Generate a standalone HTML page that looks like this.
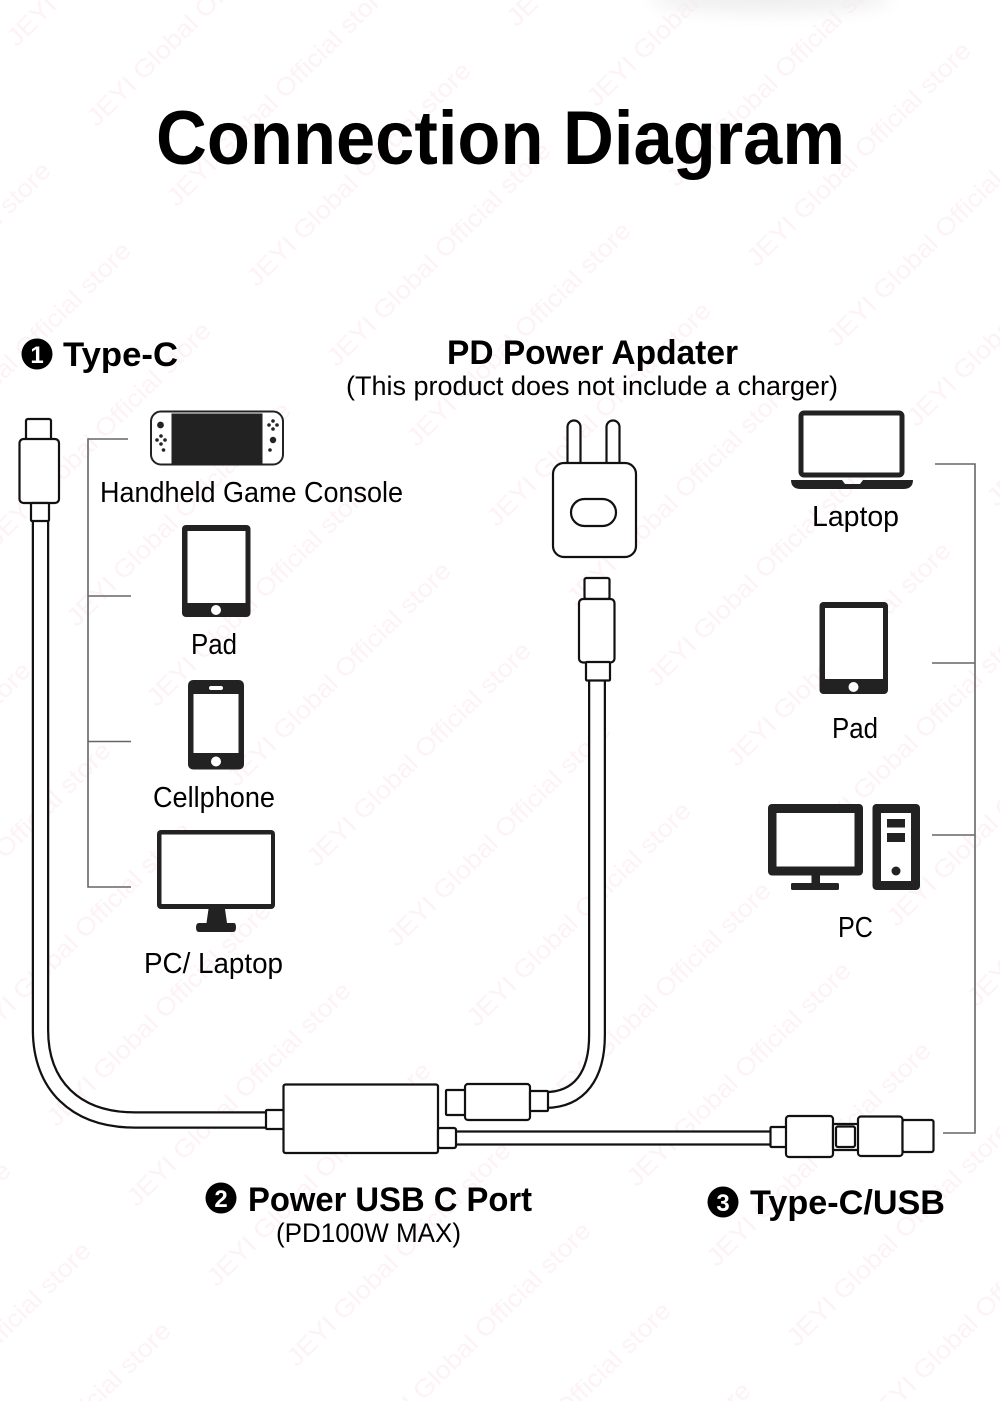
<!DOCTYPE html>
<html>
<head>
<meta charset="utf-8">
<style>
html,body{margin:0;padding:0;background:#fff;width:1000px;height:1401px;overflow:hidden}
svg{display:block}
text{font-family:"Liberation Sans",sans-serif;fill:#000}
.b{font-weight:bold}
.l{stroke:#111;stroke-width:2.2;fill:#fff;stroke-linejoin:round}
.k{stroke:#666;stroke-width:1.6;fill:none}
.c{fill:none;stroke-linecap:butt}
.i{fill:#222}
.w{fill:#fff}
</style>
</head>
<body>
<svg width="1000" height="1401" viewBox="0 0 1000 1401" xmlns="http://www.w3.org/2000/svg">
<defs>
<pattern id="wm" width="367.7" height="113.14" patternUnits="userSpaceOnUse" patternTransform="translate(257,288) rotate(-45) translate(0,-60)">
<text x="0" y="60" font-size="25" textLength="305" lengthAdjust="spacingAndGlyphs" style="fill:#fdf2f5">JEYI Global Official store</text>
</pattern>
<filter id="blur" x="-30%" y="-100%" width="160%" height="300%"><feGaussianBlur stdDeviation="9"/></filter>
</defs>
<rect width="1000" height="1401" fill="#fff"/>
<rect width="1000" height="1401" fill="url(#wm)"/>
<ellipse cx="770" cy="-2" rx="120" ry="14" fill="#eeeeee" filter="url(#blur)"/>

<!-- Title -->
<text class="b" x="156" y="164" font-size="76" textLength="689" lengthAdjust="spacingAndGlyphs">Connection Diagram</text>

<!-- Headings -->
<circle cx="37" cy="354" r="15.5" fill="#000"/>
<text class="b" x="37" y="363" font-size="24" text-anchor="middle" style="fill:#fff">1</text>
<text class="b" x="63" y="366" font-size="34" textLength="115" lengthAdjust="spacingAndGlyphs">Type-C</text>
<text class="b" x="447" y="364" font-size="34" textLength="291" lengthAdjust="spacingAndGlyphs">PD Power Apdater</text>
<text x="346" y="395" font-size="27" textLength="492" lengthAdjust="spacingAndGlyphs">(This product does not include a charger)</text>

<!-- Left brackets -->
<path class="k" d="M128 439H88V887H131M88 596H131M88 741.500H131"/>
<!-- Right brackets -->
<path class="k" d="M935 464H975V1133H943M932 663H975M932 835H975"/>

<!-- Left cable -->
<path class="c" d="M40.500 515V1030C40.500 1085 75 1120 135 1120H270" stroke="#111" stroke-width="17.500"/>
<path class="c" d="M40.500 515V1030C40.500 1085 75 1120 135 1120H270" stroke="#fff" stroke-width="13"/>
<rect class="l" x="26" y="419" width="25" height="21" rx="2"/>
<rect class="l" x="19.500" y="439" width="39.500" height="64" rx="4"/>
<rect class="l" x="31" y="503" width="18" height="18" rx="1"/>

<!-- Switch console -->
<rect x="151" y="411.500" width="132" height="53" rx="10" fill="#fff" stroke="#222" stroke-width="2"/>
<rect class="i" x="171.500" y="413.500" width="91" height="50"/>
<circle class="i" cx="160.500" cy="425" r="3.400"/>
<circle class="i" cx="273" cy="440" r="3.200"/>
<circle class="i" cx="161" cy="436" r="1.800"/><circle class="i" cx="157" cy="440" r="1.800"/><circle class="i" cx="165" cy="440" r="1.800"/><circle class="i" cx="161" cy="444" r="1.800"/><circle class="i" cx="163.500" cy="450" r="1.800"/>
<circle class="i" cx="273" cy="421" r="1.800"/><circle class="i" cx="269" cy="425" r="1.800"/><circle class="i" cx="277" cy="425" r="1.800"/><circle class="i" cx="273" cy="429" r="1.800"/><circle class="i" cx="270" cy="450" r="1.800"/>
<text x="100" y="502" font-size="29" textLength="303" lengthAdjust="spacingAndGlyphs">Handheld Game Console</text>

<!-- Pad left -->
<rect class="i" x="182" y="525" width="68.500" height="92" rx="4"/>
<rect class="w" x="187.500" y="531" width="58" height="72"/>
<circle class="w" cx="216" cy="610" r="5"/>
<text x="191" y="654" font-size="29" textLength="46" lengthAdjust="spacingAndGlyphs">Pad</text>

<!-- Cellphone -->
<rect class="i" x="188" y="680" width="56" height="89.500" rx="5"/>
<rect class="w" x="193.500" y="694" width="45" height="59"/>
<rect class="w" x="209" y="686" width="14" height="4" rx="2"/>
<circle class="w" cx="216" cy="761.500" r="5"/>
<text x="153" y="807" font-size="29" textLength="122" lengthAdjust="spacingAndGlyphs">Cellphone</text>

<!-- Monitor -->
<rect class="i" x="157" y="830" width="118" height="79" rx="4"/>
<rect class="w" x="161.500" y="834.500" width="109.500" height="69.500"/>
<path class="i" d="M208.500 909H225L227 923H234Q236 923 236 927.500Q236 932 233 932H199Q196 932 196 927.500Q196 923 199 923H206.500Z"/>
<text x="144" y="973" font-size="29" textLength="139" lengthAdjust="spacingAndGlyphs">PC/ Laptop</text>

<!-- Charger -->
<path class="l" d="M567.500 463V427a6.500 6.500 0 0 1 13 0V463"/>
<path class="l" d="M606.500 463V427a6.500 6.500 0 0 1 13 0V463"/>
<rect class="l" x="553" y="463" width="83" height="94" rx="11"/>
<rect class="l" x="571" y="499" width="45" height="27" rx="13.500"/>

<!-- Middle cable -->
<path class="c" d="M597 675V1035C597 1075 580 1100 545 1100" stroke="#111" stroke-width="18"/>
<path class="c" d="M597 675V1035C597 1075 580 1100 545 1100" stroke="#fff" stroke-width="13.500"/>
<rect class="l" x="584.500" y="578" width="25" height="21" rx="2"/>
<rect class="l" x="579" y="599" width="35.500" height="63.500" rx="4"/>
<rect class="l" x="586" y="662" width="24" height="18.500" rx="1"/>

<!-- Hub -->
<rect class="l" x="266" y="1110" width="18" height="19" rx="1"/>
<rect class="l" x="283.500" y="1084.500" width="154.500" height="68.500" rx="2"/>
<rect class="l" x="446" y="1090" width="20" height="25" rx="1"/>
<rect class="l" x="465" y="1084" width="65" height="36" rx="3"/>
<rect class="l" x="530" y="1091" width="18" height="20" rx="1"/>

<!-- Right cable -->
<rect class="l" x="450" y="1131.500" width="325" height="13"/>
<rect class="l" x="438" y="1128" width="18" height="20" rx="2"/>
<rect class="l" x="770.500" y="1127" width="16" height="20" rx="1"/>
<rect class="l" x="786" y="1116" width="47" height="41" rx="3"/>
<rect class="l" x="833" y="1124" width="26" height="26" rx="1"/>
<rect class="l" x="836" y="1126.500" width="19" height="20.500" rx="2"/>
<rect class="l" x="858" y="1116.500" width="44.500" height="39.500" rx="3"/>
<rect class="l" x="902.500" y="1120" width="31" height="32" rx="2"/>

<!-- Laptop -->
<rect x="801" y="413" width="101" height="62" rx="3" fill="#fff" stroke="#222" stroke-width="5"/>
<path class="i" d="M791 480H842L845 484H860L863 480H913Q913 489 903 489H801Q791 489 791 480Z"/>
<text x="812" y="526" font-size="29" textLength="87" lengthAdjust="spacingAndGlyphs">Laptop</text>

<!-- Pad right -->
<rect class="i" x="819.500" y="602" width="68.500" height="92" rx="4"/>
<rect class="w" x="825" y="608" width="58" height="71"/>
<circle class="w" cx="853.500" cy="687" r="5"/>
<text x="832" y="738" font-size="29" textLength="46" lengthAdjust="spacingAndGlyphs">Pad</text>

<!-- PC -->
<rect class="i" x="768" y="804" width="95" height="71.500" rx="4"/>
<rect class="w" x="776.500" y="813" width="78" height="53.500"/>
<rect class="i" x="811.500" y="875" width="8.500" height="9"/>
<rect class="i" x="791" y="883" width="48" height="7" rx="1.500"/>
<rect class="i" x="872.500" y="804" width="47.500" height="86" rx="4"/>
<rect class="w" x="881" y="813" width="30" height="68"/>
<rect class="i" x="887" y="819" width="18" height="8.500"/>
<rect class="i" x="887" y="833" width="18" height="9"/>
<circle class="i" cx="896" cy="871" r="4.500"/>
<text x="838" y="937" font-size="29" textLength="35" lengthAdjust="spacingAndGlyphs">PC</text>

<!-- Bottom labels -->
<circle cx="221" cy="1198" r="15.500" fill="#000"/>
<text class="b" x="221" y="1207" font-size="24" text-anchor="middle" style="fill:#fff">2</text>
<text class="b" x="248" y="1211" font-size="34" textLength="284" lengthAdjust="spacingAndGlyphs">Power USB C Port</text>
<text x="276" y="1242" font-size="27" textLength="185" lengthAdjust="spacingAndGlyphs">(PD100W MAX)</text>
<circle cx="723" cy="1202" r="15.500" fill="#000"/>
<text class="b" x="723" y="1211" font-size="24" text-anchor="middle" style="fill:#fff">3</text>
<text class="b" x="750" y="1214" font-size="34" textLength="195" lengthAdjust="spacingAndGlyphs">Type-C/USB</text>
</svg>
</body>
</html>
